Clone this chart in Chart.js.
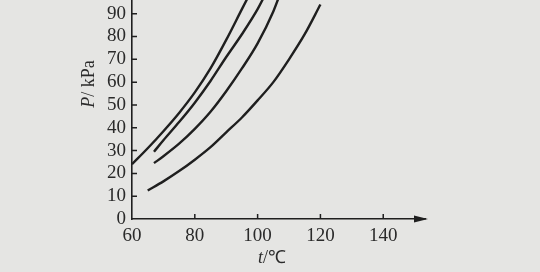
<!DOCTYPE html>
<html>
<head>
<meta charset="utf-8">
<script src="https://cdn.jsdelivr.net/npm/chart.js@4.4.0/dist/chart.umd.min.js"></script>
<style>
  html, body { margin: 0; padding: 0; background: #e5e5e3; }
  #vp { display: block; }
</style>
</head>
<body>
<canvas id="vp" width="540" height="272"></canvas>
<script>
// temperatures (°C) and vapour pressures (kPa)
const curve1T = [60, 65, 70, 75, 80, 85, 90, 95, 98];
const curve1P = [24, 31, 38.5, 46.5, 55.5, 66, 78.5, 92, 100];
const curve2T = [67, 70, 75, 80, 85, 90, 95, 100, 103];
const curve2P = [29.5, 34.5, 42.5, 51, 60.5, 71, 81, 92, 100];
const curve3T = [67, 70, 75, 80, 85, 90, 95, 100, 105, 107.5];
const curve3P = [24.5, 27.5, 33, 39.5, 47, 56, 66, 77, 91, 100];
const curve4T = [65, 70, 75, 80, 85, 90, 95, 100, 105, 110, 115, 120];
const curve4P = [12.5, 16.5, 21, 26, 31.5, 38, 44.5, 52, 60, 70, 81, 94];

const xTicks = [60, 80, 100, 120, 140];
const yTicks = [0, 10, 20, 30, 40, 50, 60, 70, 80, 90];

const ink = '#1f1f1f';
const labelFont = { family: 'Liberation Serif', size: 19 };

function pairs(ts, ps) {
    return ts.map((t, i) => ({ x: t, y: ps[i] }));
}

function curve(ts, ps) {
    return {
        data: pairs(ts, ps),
        borderColor: ink,
        borderWidth: 2.4,
        pointRadius: 0,
        fill: false,
        cubicInterpolationMode: 'monotone'
    };
}

// inward tick marks, arrow on the t axis, axis titles
const decor = {
    id: 'decor',
    beforeDraw(chart) {
        const c = chart.ctx;
        c.save();
        c.fillStyle = '#e5e5e3';
        c.fillRect(0, 0, chart.width, chart.height);
        c.restore();
    },
    afterDraw(chart) {
        const c = chart.ctx;
        const xs = chart.scales.x;
        const ys = chart.scales.y;
        const area = chart.chartArea;
        c.save();
        c.strokeStyle = ink;
        c.fillStyle = ink;
        c.lineWidth = 1.5;
        c.beginPath();
        xTicks.forEach(v => {
            const px = xs.getPixelForValue(v);
            if (v === xTicks[0]) return;
            c.moveTo(px, area.bottom);
            c.lineTo(px, area.bottom - 5);
        });
        yTicks.forEach(v => {
            const py = ys.getPixelForValue(v);
            if (v === 0) return;
            c.moveTo(area.left, py);
            c.lineTo(area.left + 5, py);
        });
        c.stroke();

        // arrow head
        c.beginPath();
        c.moveTo(area.right + 3, area.bottom);
        c.lineTo(area.right - 11, area.bottom - 3.5);
        c.lineTo(area.right - 11, area.bottom + 3.5);
        c.closePath();
        c.fill();

        c.fillStyle = '#2a2a2a';
        c.textBaseline = 'middle';

        // x title: t/℃
        const it = 'italic 18px "Liberation Serif"';
        const rm = '18px "Liberation Serif"';
        c.font = it;
        const wT = c.measureText('t').width;
        c.font = rm;
        const wU = c.measureText('/\u2103').width;
        let sx = 272 - (wT + wU) / 2;
        c.font = it;
        c.textAlign = 'left';
        c.fillText('t', sx, 258);
        c.font = rm;
        c.fillText('/\u2103', sx + wT, 258);

        // y title: P/kPa
        c.translate(89, 84);
        c.rotate(-Math.PI / 2);
        c.font = it;
        const wP = c.measureText('P').width;
        c.font = rm;
        const wK = c.measureText('/ kPa').width;
        sx = -(wP + wK) / 2;
        c.font = it;
        c.fillText('P', sx, 0);
        c.font = rm;
        c.fillText('/ kPa', sx + wP, 0);
        c.restore();
    }
};

new Chart(document.getElementById('vp').getContext('2d'), {
    type: 'line',
    data: {
        datasets: [
            curve(curve1T, curve1P),
            curve(curve2T, curve2P),
            curve(curve3T, curve3P),
            curve(curve4T, curve4P)
        ]
    },
    options: {
        responsive: false,
        animation: false,
        layout: { padding: { top: 0, right: 115, bottom: 0, left: 0 } },
        plugins: {
            legend: { display: false },
            tooltip: { enabled: false }
        },
        scales: {
            x: {
                type: 'linear',
                min: 60,
                max: 153.3,
                afterBuildTicks: s => { s.ticks = xTicks.map(v => ({ value: v })); },
                afterFit: s => { s.height = 53; s.paddingLeft = 0; s.paddingRight = 0; },
                grid: { drawOnChartArea: false, drawTicks: false },
                border: { display: true, color: ink, width: 1.6 },
                ticks: { color: '#2a2a2a', font: labelFont, padding: 6, maxRotation: 0, autoSkip: false }
            },
            y: {
                type: 'linear',
                min: 0,
                max: 96,
                afterBuildTicks: s => { s.ticks = yTicks.map(v => ({ value: v })); },
                afterFit: s => { s.width = 132; s.paddingTop = 0; s.paddingBottom = 0; },
                grid: { drawOnChartArea: false, drawTicks: false },
                border: { display: true, color: ink, width: 1.6 },
                ticks: { color: '#2a2a2a', font: labelFont, padding: 6, autoSkip: false }
            }
        }
    },
    plugins: [decor]
});
</script>
</body>
</html>
